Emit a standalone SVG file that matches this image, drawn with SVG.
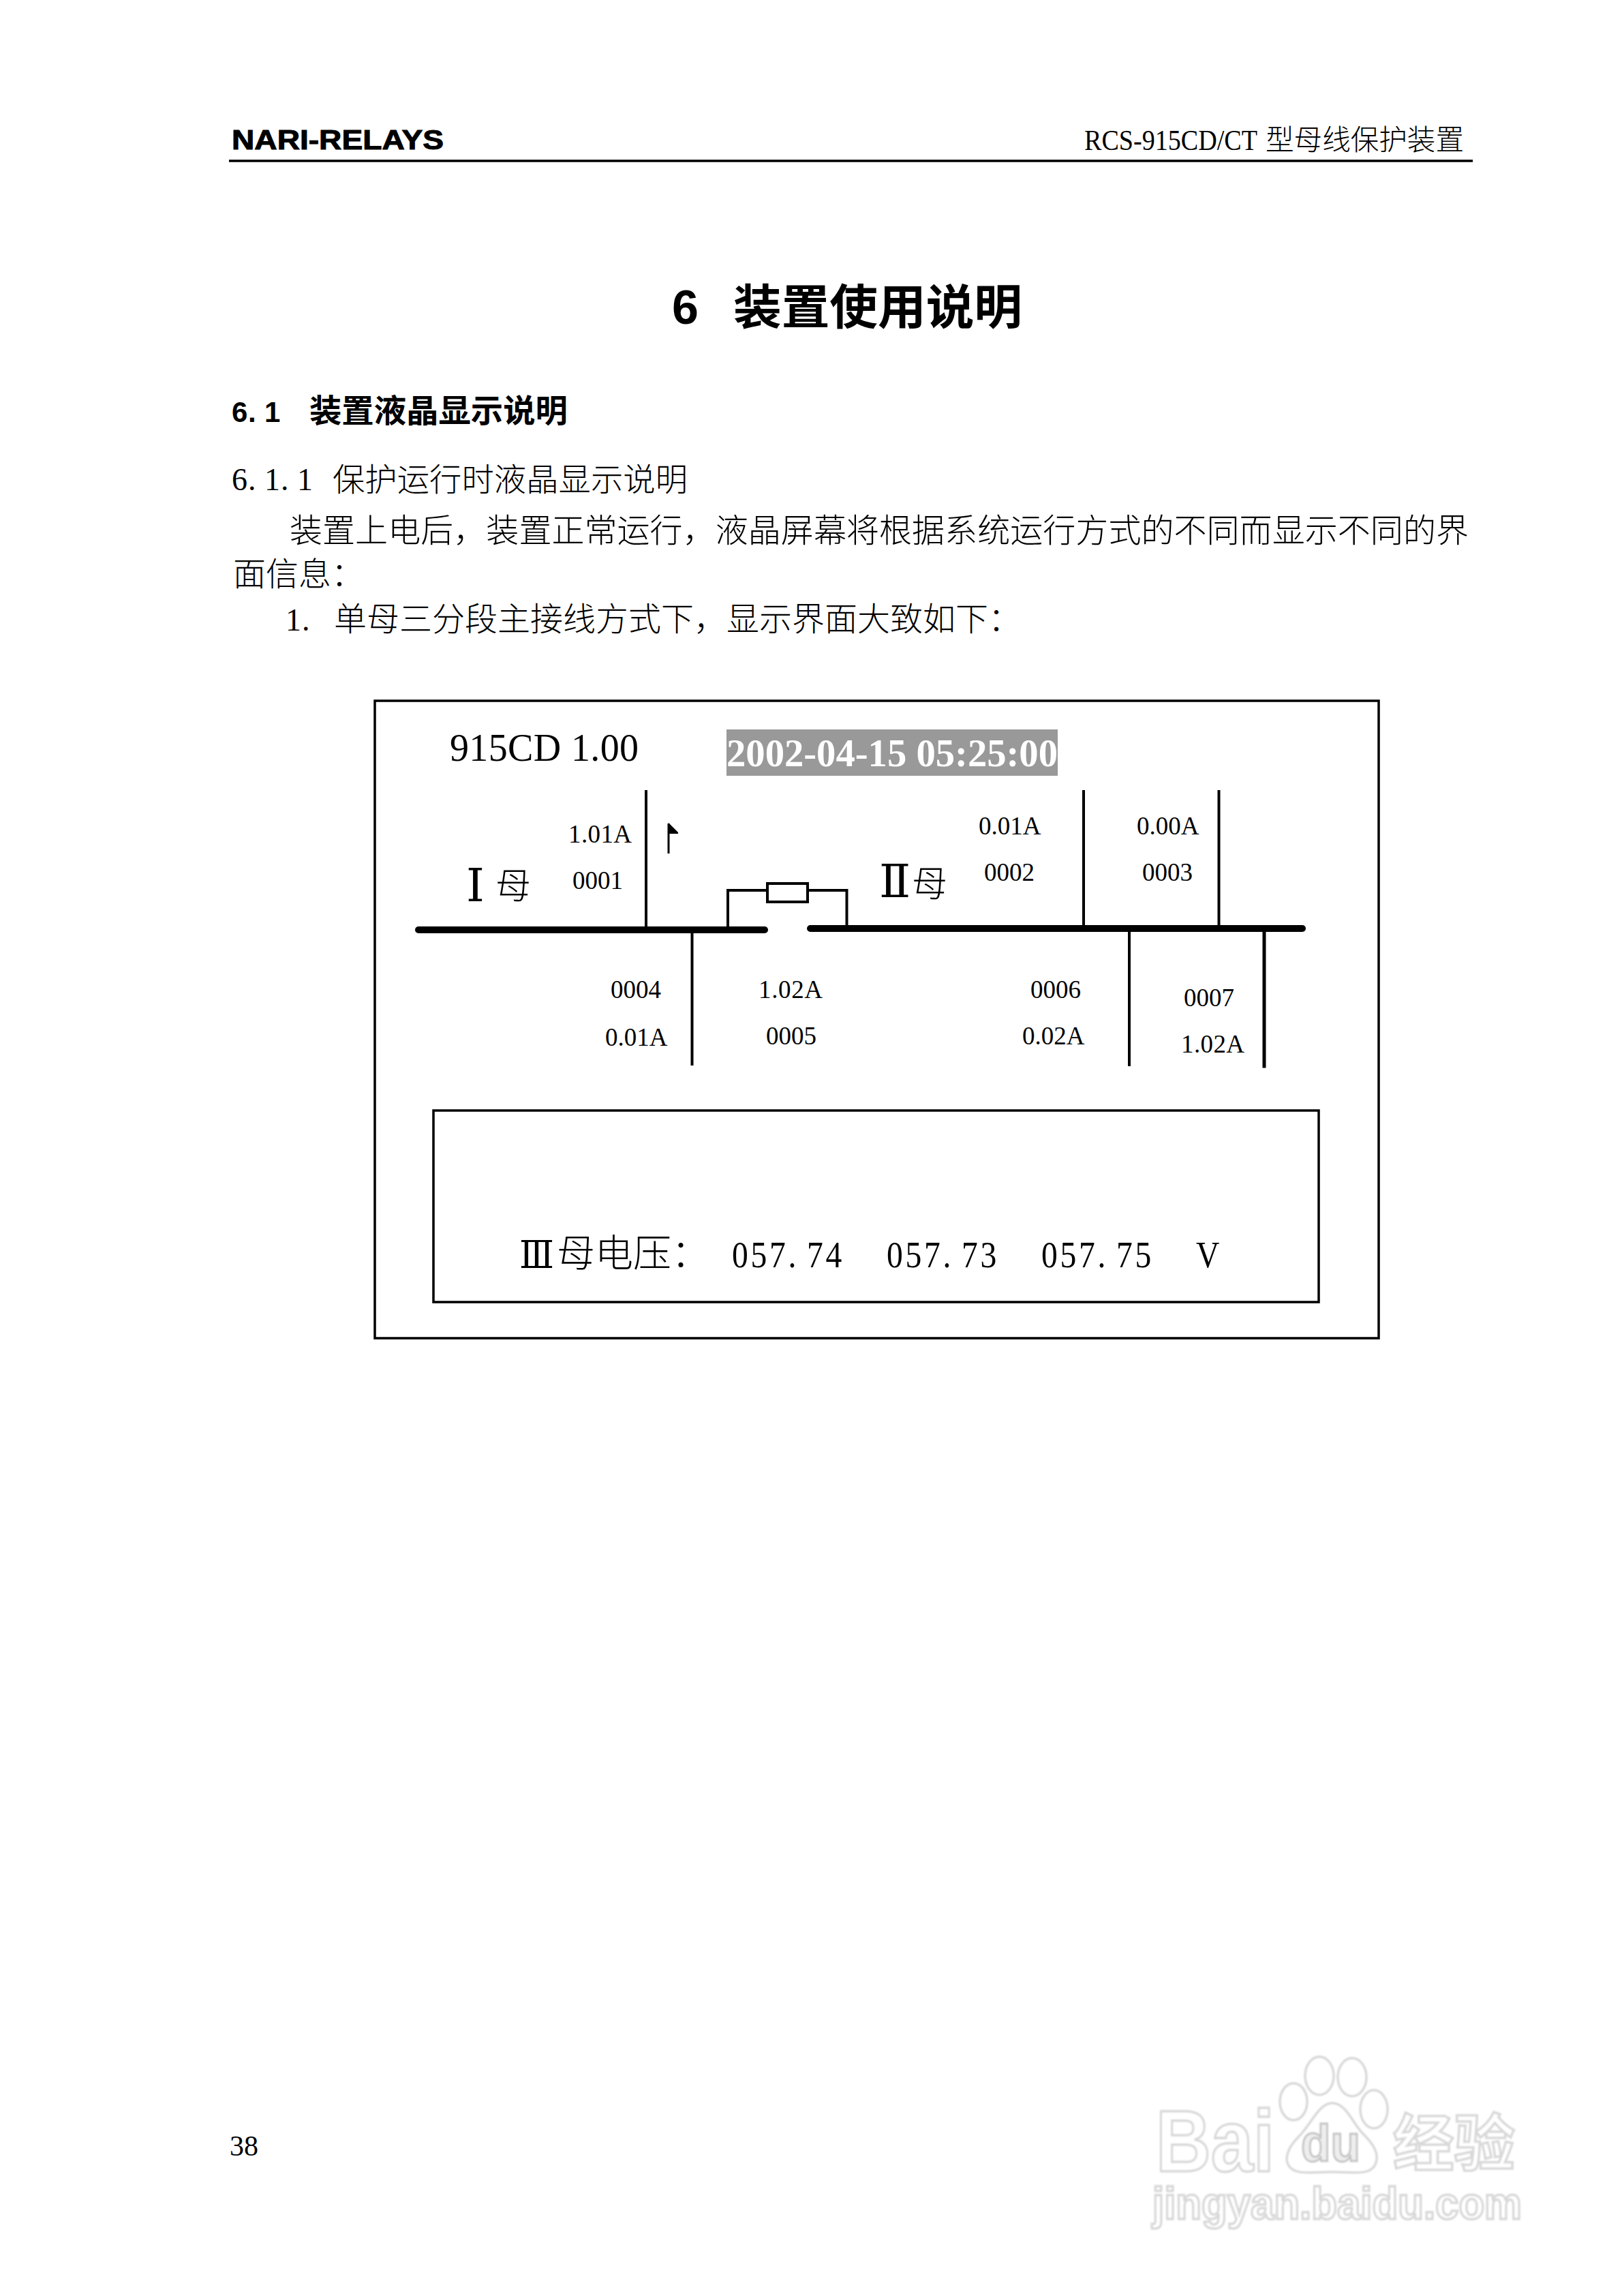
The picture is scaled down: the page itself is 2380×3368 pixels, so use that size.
<svg xmlns="http://www.w3.org/2000/svg" width="2380" height="3368" viewBox="0 0 2380 3368">
<style>
.c{font-family:"Noto Sans CJK SC",sans-serif;fill:#000;font-weight:300}
.cb{font-family:"Noto Sans CJK SC",sans-serif;fill:#000;font-weight:700}
.s{font-family:"Liberation Serif",serif;fill:#000}
.l{font-size:37px}
.big{font-family:"Liberation Serif",serif;fill:#000;font-size:56px}
.rn{font-family:"Liberation Serif","DejaVu Serif",serif;fill:#000;font-size:68px}
.m{font-family:"Noto Sans CJK SC",sans-serif;fill:#000;font-size:52px;font-weight:300}
.ln{stroke:#000;stroke-width:4;fill:none;stroke-linecap:square}
.bus{stroke:#000;stroke-width:10;stroke-linecap:round;fill:none}
.box{fill:#fff;stroke:#000;stroke-width:3.500}
.wm{fill:#fff;stroke:#d8d8d8;stroke-width:3.500;font-family:"Liberation Sans",sans-serif;font-weight:700}
</style>
<defs><filter id="soft" x="-5%" y="-5%" width="110%" height="110%"><feGaussianBlur stdDeviation="1"/></filter></defs>
<rect width="2380" height="3368" fill="#fff"/>

<g id="header">
<text x="340" y="219" font-family="Liberation Sans,sans-serif" font-weight="700" font-size="40" stroke="#000" stroke-width="1" textLength="311" lengthAdjust="spacingAndGlyphs">NARI-RELAYS</text>
<text class="s" x="1591" y="220" font-size="42" textLength="254" lengthAdjust="spacingAndGlyphs">RCS-915CD/CT</text>
<text class="c" x="1857" y="220" font-size="42" textLength="291" lengthAdjust="spacingAndGlyphs">型母线保护装置</text>
<line x1="336" y1="236" x2="2161" y2="236" stroke="#000" stroke-width="3.500"/>
</g>

<g id="headings">
<text x="986" y="475" font-family="Liberation Sans,sans-serif" font-weight="700" font-size="70">6</text>
<text class="cb" x="1076" y="476" font-size="70" textLength="424" lengthAdjust="spacingAndGlyphs">装置使用说明</text>
<text x="340 364 388" y="619" font-family="Liberation Sans,sans-serif" font-weight="700" font-size="42">6.1</text>
<text class="cb" x="454" y="619" font-size="47" textLength="379" lengthAdjust="spacingAndGlyphs">装置液晶显示说明</text>
<text class="s" x="340 364 388 412 436" y="719" font-size="46">6.1.1</text>
<text class="c" x="488" y="720" font-size="47" textLength="521" lengthAdjust="spacingAndGlyphs">保护运行时液晶显示说明</text>
</g>

<g id="body">
<text class="c" x="425" y="795" font-size="48" textLength="1730" lengthAdjust="spacingAndGlyphs">装置上电后，装置正常运行，液晶屏幕将根据系统运行方式的不同而显示不同的界</text>
<text class="c" x="342" y="859" font-size="48">面信息：</text>
<text class="s" x="419 443" y="925" font-size="46">1.</text>
<text class="c" x="490" y="925" font-size="48">单母三分段主接线方式下，显示界面大致如下：</text>
</g>

<g id="panel"><rect class="box" x="550" y="1028" width="1473" height="935"/></g>
<g id="lcd-title"><text class="big" x="660" y="1116" textLength="277" lengthAdjust="spacing">915CD 1.00</text></g>
<g id="lcd-time">
<rect x="1066" y="1070" width="486" height="68" fill="#999"/>
<text x="1066" y="1124" font-family="Liberation Serif,serif" font-weight="700" font-size="56" fill="#fff" textLength="486" lengthAdjust="spacingAndGlyphs">2002-04-15 05:25:00</text>
</g>

<g id="connectors">
<path class="bus" d="M614 1364H1122"/>
<path class="bus" d="M1189 1362H1911"/>
<path class="ln" d="M948 1161V1360M1015.500 1370V1561M1590 1161V1359M1788.500 1161V1359M1657 1368V1562"/>
<path class="ln" d="M1855 1368V1564" style="stroke-width:5"/>
<path class="ln" d="M1068 1360V1306H1126M1185 1306H1242.500V1359"/>
</g>

<g id="switch"><rect x="1126" y="1296" width="59" height="27" fill="#fff" stroke="#000" stroke-width="4"/></g>
<g id="flag">
<line x1="981" y1="1208" x2="981" y2="1252" stroke="#000" stroke-width="3"/>
<path d="M981 1207L995 1221V1223H981Z" fill="#000"/>
</g>

<g id="bus-1"><text class="rn" x="684" y="1322">Ⅰ</text><text class="m" x="727" y="1318">母</text></g>
<g id="bus-2"><text class="rn" x="1290" y="1316">Ⅱ</text><text class="m" x="1338" y="1315">母</text></g>

<g id="feeder-0001"><text class="s l" x="834" y="1236" textLength="93">1.01A</text><text class="s l" x="840" y="1304">0001</text></g>
<g id="feeder-0002"><text class="s l" x="1436" y="1224">0.01A</text><text class="s l" x="1444" y="1292">0002</text></g>
<g id="feeder-0003"><text class="s l" x="1668" y="1224">0.00A</text><text class="s l" x="1676" y="1292">0003</text></g>
<g id="feeder-0004"><text class="s l" x="896" y="1464">0004</text><text class="s l" x="888" y="1534">0.01A</text></g>
<g id="feeder-0005"><text class="s l" x="1113" y="1464" textLength="94">1.02A</text><text class="s l" x="1124" y="1532">0005</text></g>
<g id="feeder-0006"><text class="s l" x="1512" y="1464">0006</text><text class="s l" x="1500" y="1532">0.02A</text></g>
<g id="feeder-0007"><text class="s l" x="1737" y="1476">0007</text><text class="s l" x="1733" y="1544" textLength="93">1.02A</text></g>

<g id="voltage-panel">
<rect class="box" x="636" y="1629" width="1299" height="281"/>
<text class="rn" x="762" y="1860" textLength="51" lengthAdjust="spacingAndGlyphs" style="font-size:56px">Ⅲ</text>
<text class="c" x="817" y="1858" font-size="56">母电压：</text>
<g class="s" font-size="56" transform="scale(.85 1)">
<text x="1263.500 1295.900 1328.200 1360.600 1392.900 1425.300" y="1859">057.74</text>
<text x="1530.600 1563 1595.300 1627.700 1660 1692.400" y="1859">057.73</text>
<text x="1797.600 1830 1862.300 1894.700 1927 1959.400" y="1859">057.75</text>
<text x="2064.700" y="1859">V</text>
</g>
</g>

<g id="page-number"><text class="s" x="337" y="3162" font-size="42">38</text></g>

<g id="watermark" filter="url(#soft)">
<text class="wm" x="1696" y="3185" font-size="128" textLength="174" lengthAdjust="spacingAndGlyphs">Bai</text>
<ellipse cx="1898" cy="3083" rx="20" ry="27" fill="#fff" stroke="#d8d8d8" stroke-width="3.500"/>
<ellipse cx="1936" cy="3045" rx="21" ry="28" fill="#fff" stroke="#d8d8d8" stroke-width="3.500"/>
<ellipse cx="1984" cy="3047" rx="21" ry="28" fill="#fff" stroke="#d8d8d8" stroke-width="3.500"/>
<ellipse cx="2016" cy="3094" rx="20" ry="28" fill="#fff" stroke="#d8d8d8" stroke-width="3.500"/>
<path d="M1955 3085C1935 3085 1925 3115 1905 3135C1890 3150 1885 3165 1890 3175C1898 3192 1925 3186 1955 3186C1985 3186 2010 3192 2018 3175C2025 3160 2015 3145 2000 3130C1985 3115 1975 3085 1955 3085Z" fill="#fff" stroke="#d8d8d8" stroke-width="3.500"/>
<text x="1909" y="3170" font-family="Liberation Sans,sans-serif" font-weight="700" font-size="76" fill="#eee" stroke="#c4c4c4" stroke-width="3" textLength="87" lengthAdjust="spacingAndGlyphs">du</text>
<text x="2044" y="3176" font-family="Noto Sans CJK SC,sans-serif" font-weight="700" font-size="90" fill="#fff" stroke="#d8d8d8" stroke-width="3.500" textLength="179" lengthAdjust="spacingAndGlyphs">经验</text>
<text class="wm" x="1691" y="3255" font-size="66" textLength="542" lengthAdjust="spacingAndGlyphs">jingyan.baidu.com</text>
</g>
</svg>
